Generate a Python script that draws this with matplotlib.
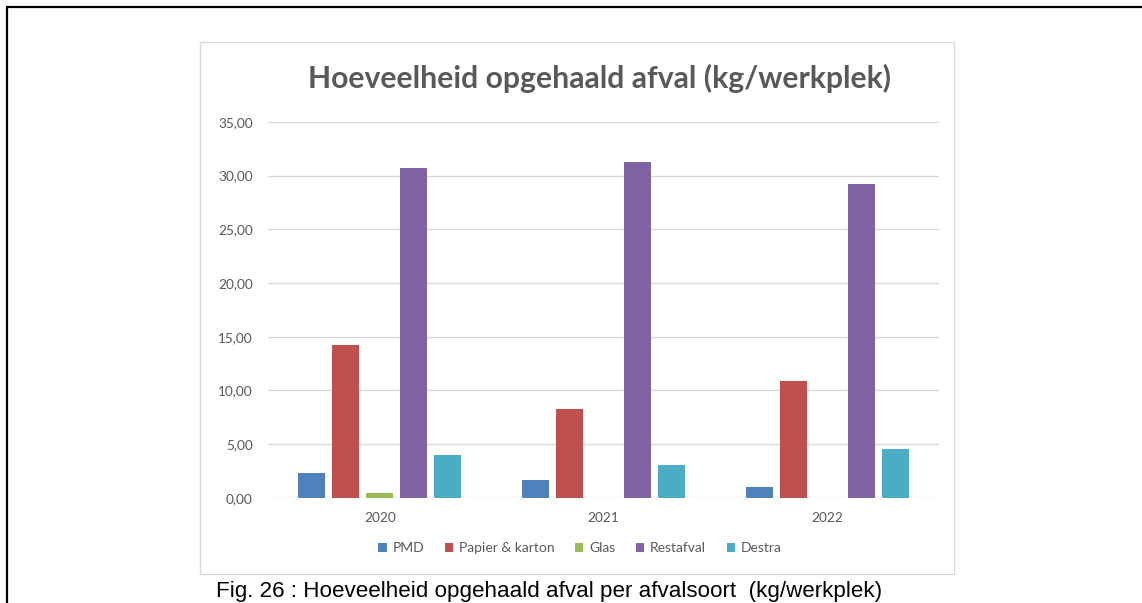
"""Hoeveelheid opgehaald afval per afvalsoort (kg/werkplek)."""
import matplotlib
matplotlib.use("Agg")
import matplotlib.pyplot as plt
from matplotlib.patches import Rectangle
from matplotlib.lines import Line2D
import numpy as np

years = ["2020", "2021", "2022"]
soorten = ["PMD", "Papier & karton", "Glas", "Restafval", "Destra"]
pmd = [2.27, 1.62, 1.05]
papier = [14.2, 8.25, 10.9]
glas = [0.44, 0.0, 0.0]
restafval = [30.68, 31.3, 29.25]
destra = [3.95, 3.04, 4.53]
colors = ["#4F81BD", "#C0504D", "#9BBB59", "#8064A2", "#4BACC6"]

TXT = "#595959"
GRID = "#D9D9D9"
plt.rcParams["font.family"] = ["Lato", "DejaVu Sans"]


def main():
    fig = plt.figure(figsize=(11.42, 6.03), dpi=100)

    # document frame (left and top rule)
    fig.add_artist(Line2D([7 / 1142, 7 / 1142], [-0.05, 1 - 6.5 / 603], color="black", lw=1.6,
                          solid_capstyle="butt", transform=fig.transFigure))
    fig.add_artist(Line2D([6 / 1142, 1.05], [1 - 6.5 / 603, 1 - 6.5 / 603], color="black",
                          lw=1.6, solid_capstyle="butt", transform=fig.transFigure))
    # chart box
    fig.add_artist(Rectangle((200 / 1142, 1 - 574 / 603), 754 / 1142, 532 / 603,
                             transform=fig.transFigure, fill=False, ec=GRID, lw=1.0))

    ax = fig.add_axes([268 / 1142, 1 - 497.8 / 603, 671 / 1142, 375.9 / 603])
    x = np.arange(len(years))
    pitch, width = 0.152, 0.122
    series = [pmd, papier, glas, restafval, destra]
    for i, (vals, c, name) in enumerate(zip(series, colors, soorten)):
        ax.bar(x + (i - 2) * pitch, vals, width, color=c, label=name, zorder=3)

    ax.set_xlim(-0.5, 2.5)
    ax.set_ylim(0, 35)
    ax.set_yticks(np.arange(0, 36, 5))
    ax.set_yticklabels([f"{v:.2f}".replace(".", ",") for v in np.arange(0, 36, 5)])
    ax.set_xticks(x)
    ax.set_xticklabels(years)
    ax.grid(axis="y", color=GRID, lw=1.0, zorder=0)
    for s in ax.spines.values():
        s.set_visible(False)
    ax.tick_params(length=0, colors=TXT, labelsize=9.8)
    ax.tick_params(axis="y", pad=11)
    ax.tick_params(axis="x", pad=10)

    fig.text(600 / 1142, 1 - 78 / 603, "Hoeveelheid opgehaald afval (kg/werkplek)",
             ha="center", va="center", fontsize=21.7, fontweight="bold", color=TXT)

    fig.legend(loc="center", bbox_to_anchor=(580 / 1142, 1 - 548 / 603), ncol=5,
               frameon=False, fontsize=10, labelcolor=TXT, handlelength=0.6,
               handleheight=0.6, handletextpad=0.4, columnspacing=1.5)

    fig.text(549 / 1142, 1 - 591 / 603,
             "Fig. 26 : Hoeveelheid opgehaald afval per afvalsoort  (kg/werkplek)",
             ha="center", va="center", fontsize=16.1, color="black",
             family=["Liberation Sans", "DejaVu Sans"])

    fig.savefig("out.png", dpi=100)
    plt.close(fig)


if __name__ == "__main__":
    main()
